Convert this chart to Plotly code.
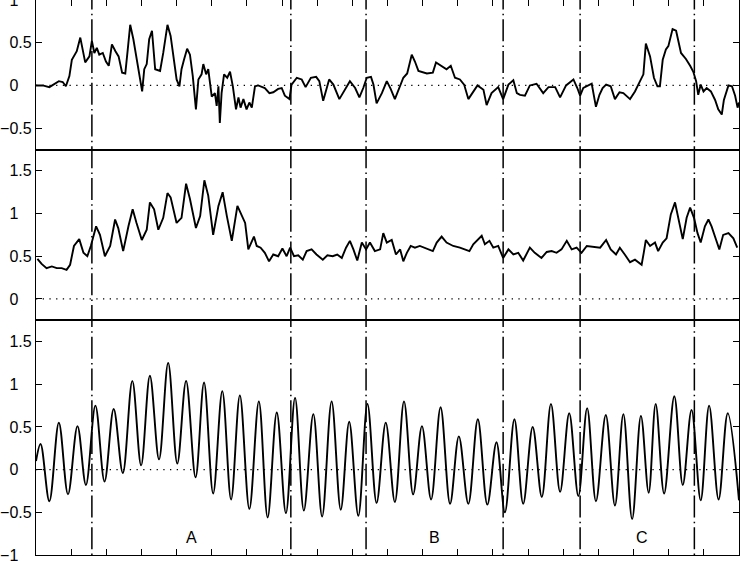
import plotly.graph_objects as go

# ---------------- data ----------------
# time axis in seconds, 0..20 (unlabelled ticks every second)
x_range = [0, 20]
x_ticks = [0, 1, 2, 3, 4, 5, 6, 7, 8, 9, 10, 11, 12, 13, 14, 15, 16, 17, 18, 19, 20]

# top panel
t_top = [0.0, 0.19, 0.38, 0.52, 0.65, 0.76, 0.85, 0.95, 1.02, 1.16, 1.26, 1.40, 1.52, 1.59, 1.66,
         1.73, 1.80, 1.90, 1.99, 2.07, 2.16, 2.26, 2.35, 2.45, 2.54, 2.61, 2.68, 2.77, 2.86, 2.94,
         3.02, 3.08, 3.15, 3.22, 3.30,
         3.39, 3.53, 3.62, 3.74, 3.83, 3.93, 4.00, 4.08, 4.14, 4.21, 4.30, 4.38, 4.46, 4.55, 4.62,
         4.71, 4.76, 4.84, 4.90, 5.00, 5.09, 5.14, 5.19, 5.23, 5.28, 5.35, 5.44, 5.52, 5.60, 5.69,
         5.76, 5.82, 5.90, 5.99, 6.07, 6.14, 6.23, 6.32, 6.51, 6.64,
         6.75, 6.89, 6.99, 7.08, 7.21, 7.27, 7.42, 7.56, 7.67, 7.82, 7.97, 8.06, 8.17, 8.34, 8.46,
         8.63, 8.79, 8.93, 9.08, 9.20, 9.31, 9.41, 9.53, 9.60, 9.69, 9.84, 9.98, 10.09, 10.21, 10.34,
         10.45, 10.56, 10.69, 10.78, 10.88, 11.12, 11.29, 11.38, 11.54, 11.68, 11.80, 11.92, 12.06,
         12.18, 12.30, 12.42, 12.56, 12.73, 12.82, 12.96,
         13.15, 13.29, 13.44, 13.58, 13.68, 13.77, 13.91, 14.05, 14.24, 14.43, 14.58, 14.77, 14.91,
         15.08, 15.29, 15.40,
         15.48, 15.57, 15.67, 15.81, 15.93, 16.03, 16.12, 16.22, 16.35, 16.47, 16.60, 16.71, 16.90,
         17.04, 17.16, 17.28, 17.35, 17.47, 17.58, 17.68, 17.75, 17.83, 17.92, 17.99, 18.11, 18.21,
         18.35, 18.49, 18.61, 18.70, 18.78, 18.84, 18.91, 18.99, 19.08, 19.20, 19.32, 19.41, 19.51,
         19.57, 19.70, 19.80, 19.89, 19.96, 20.0]
v_top = [0.0, 0.0, -0.02, 0.02, 0.05, 0.04, -0.01, 0.11, 0.30, 0.40, 0.56, 0.27, 0.34, 0.52, 0.38,
         0.44, 0.36, 0.38, 0.28, 0.23, 0.48, 0.40, 0.34, 0.15, 0.14, 0.42, 0.71, 0.54, 0.30, 0.11,
         -0.07, 0.19, 0.25, 0.54, 0.64,
         0.19, 0.17, 0.38, 0.71, 0.58, 0.30, 0.07, -0.01, 0.19, 0.30, 0.43, 0.36, 0.11, -0.28, 0.07,
         0.13, 0.25, 0.13, 0.19, -0.13, -0.09, -0.24, -0.01, -0.44, -0.09, 0.13, 0.09, 0.16, -0.01, -0.28,
         -0.14, -0.26, -0.16, -0.28, -0.20, -0.26, -0.01, 0.0, -0.03, -0.09,
         -0.08, -0.04, -0.03, -0.12, -0.16, 0.01, 0.09, 0.07, -0.02, 0.09, 0.10, 0.05, -0.18, 0.07, 0.01,
         -0.16, -0.05, 0.05, -0.03, -0.14, -0.03, 0.09, 0.10, 0.01, -0.21, -0.09, 0.05, -0.04, -0.16, -0.03,
         0.09, 0.14, 0.36, 0.28, 0.17, 0.14, 0.15, 0.27, 0.23, 0.19, 0.23, 0.09, 0.07,
         0.01, -0.16, -0.09, 0.0, -0.05, -0.23, -0.09,
         -0.02, -0.16, 0.01, 0.06, -0.09, -0.11, -0.12, 0.0, 0.02, -0.09, -0.02, -0.02, -0.14,
         0.0, 0.07, -0.03,
         -0.12, -0.03, -0.01, 0.02, -0.25, -0.11, -0.03, 0.01, -0.01, -0.16, -0.08, -0.09, -0.16,
         -0.07, 0.03, 0.13, 0.49, 0.34, 0.09, -0.01, -0.01, 0.30, 0.42, 0.46, 0.66, 0.64,
         0.38, 0.31, 0.23, 0.16, 0.05, -0.11, 0.01, -0.07, -0.03, -0.07, -0.17, -0.28, -0.34,
         -0.17, 0.0, -0.01, -0.12, -0.26, -0.2]

# middle panel
t_mid = [0.04, 0.16, 0.30, 0.45, 0.59, 0.73, 0.87, 0.97, 1.08, 1.23, 1.35, 1.46, 1.56, 1.71, 1.82,
         1.96, 2.11, 2.25, 2.34, 2.48, 2.63, 2.75, 2.86, 3.01, 3.15, 3.24, 3.36, 3.48, 3.62, 3.74,
         3.83, 4.00, 4.14, 4.27, 4.38, 4.55, 4.67, 4.79, 4.90, 5.04, 5.19, 5.31, 5.43, 5.57, 5.73,
         5.85, 5.95,
         6.04, 6.20, 6.28, 6.39, 6.51, 6.63, 6.75, 6.89, 7.01, 7.13, 7.23, 7.34, 7.46, 7.59, 7.70,
         7.84, 7.98, 8.16, 8.29, 8.44, 8.57, 8.70, 8.82, 8.93, 9.03, 9.14, 9.27, 9.39, 9.50, 9.64,
         9.79, 9.88, 9.98, 10.12, 10.24, 10.36, 10.45, 10.55, 10.66, 10.78, 10.92, 11.12, 11.29, 11.40,
         11.54, 11.68, 11.87, 12.06, 12.20, 12.33, 12.44, 12.56, 12.68, 12.77, 12.90, 13.01, 13.15,
         13.29, 13.44, 13.58, 13.72, 13.86, 14.05, 14.19, 14.38, 14.53, 14.67, 14.81, 14.95, 15.10,
         15.24, 15.38, 15.52, 15.67, 15.86, 16.05, 16.22, 16.35, 16.50, 16.61, 16.75, 16.90, 17.04,
         17.23, 17.29, 17.35, 17.47, 17.61, 17.70, 17.83, 17.94, 18.06, 18.18, 18.27, 18.40, 18.51,
         18.61, 18.72, 18.82, 18.91, 19.03, 19.13, 19.22, 19.35, 19.44, 19.55, 19.70, 19.84, 19.95]
v_mid = [0.47, 0.41, 0.36, 0.38, 0.36, 0.36, 0.34, 0.40, 0.62, 0.70, 0.54, 0.50, 0.62, 0.85, 0.75,
         0.50, 0.62, 0.93, 0.83, 0.56, 0.85, 1.05, 0.89, 0.69, 0.81, 1.13, 1.05, 0.81, 0.95, 1.24,
         1.19, 0.89, 0.95, 1.35, 1.17, 0.83, 0.97, 1.39, 1.21, 0.75, 1.09, 1.25, 0.97, 0.68, 1.09,
         0.99, 0.89,
         0.58, 0.73, 0.62, 0.60, 0.54, 0.44, 0.52, 0.50, 0.59, 0.50, 0.60, 0.50, 0.51, 0.46, 0.56,
         0.58, 0.52, 0.46, 0.51, 0.50, 0.52, 0.48, 0.60, 0.68, 0.58, 0.45, 0.66, 0.58, 0.66, 0.56,
         0.58, 0.77, 0.66, 0.69, 0.52, 0.58, 0.44, 0.54, 0.62, 0.60, 0.62, 0.59, 0.56, 0.66,
         0.73, 0.66, 0.62, 0.60, 0.58, 0.56, 0.64, 0.69, 0.74, 0.64, 0.68, 0.60, 0.62,
         0.48, 0.58, 0.52, 0.54, 0.45, 0.60, 0.54, 0.48, 0.55, 0.56, 0.54, 0.58, 0.68,
         0.58, 0.60, 0.54, 0.62, 0.61, 0.60, 0.69, 0.58, 0.52, 0.60, 0.52, 0.43, 0.46,
         0.40, 0.54, 0.69, 0.62, 0.66, 0.56, 0.66, 0.71, 0.99, 1.13, 0.97, 0.70, 0.95,
         1.07, 0.95, 0.77, 0.66, 0.85, 0.93, 0.85, 0.69, 0.58, 0.75, 0.77, 0.71, 0.60]

# bottom panel: successive peaks and troughs of the oscillation
t_bot = [0.00, 0.13, 0.38, 0.65, 0.91, 1.18, 1.42, 1.69, 1.95, 2.21, 2.47, 2.74, 2.99, 3.24, 3.50,
         3.76, 4.02, 4.27, 4.54, 4.78, 5.04, 5.30, 5.55, 5.80, 6.07, 6.34, 6.59, 6.85, 7.11, 7.37,
         7.62, 7.89, 8.14, 8.41, 8.67, 8.91, 9.17, 9.43, 9.69, 9.95, 10.21, 10.47, 10.73, 10.98, 11.24,
         11.51, 11.78, 12.03, 12.30, 12.57, 12.84, 13.10, 13.34, 13.61, 13.86, 14.13, 14.39, 14.65,
         14.91, 15.17, 15.43, 15.68, 15.93, 16.21, 16.47, 16.71, 16.96, 17.21, 17.43, 17.63, 17.87,
         18.16, 18.40, 18.65, 18.91, 19.15, 19.42, 19.68, 20.0]
v_bot = [0.10, 0.30, -0.37, 0.55, -0.29, 0.51, -0.18, 0.75, -0.14, 0.71, -0.04, 1.04, 0.05, 1.10, 0.12,
         1.25, 0.07, 1.04, -0.09, 1.02, -0.28, 0.92, -0.35, 0.87, -0.46, 0.80, -0.56, 0.67, -0.51, 0.84,
         -0.48, 0.65, -0.55, 0.80, -0.47, 0.56, -0.54, 0.77, -0.39, 0.55, -0.38, 0.80, -0.29, 0.51, -0.35,
         0.73, -0.40, 0.39, -0.40, 0.59, -0.41, 0.32, -0.50, 0.59, -0.40, 0.50, -0.32, 0.77,
         -0.26, 0.66, -0.31, 0.72, -0.37, 0.64, -0.42, 0.65, -0.58, 0.63, -0.27, 0.77, -0.28,
         0.86, -0.18, 0.70, -0.36, 0.75, -0.35, 0.66, -0.36]

# event markers and segment labels
marker_times = [1.59, 7.25, 9.39, 13.29, 15.48, 18.73]
segment_labels = ["A", "B", "C"]
segment_label_times = [4.43, 11.33, 17.24]
segment_label_level = -0.8

# y axes: ranges, tick positions and tick labels (integers padded with no-break spaces
# so that they sit further left, as in the original)
PAD = "\u00a0\u00a0\u00a0"
top_range = [-0.75, 1.0]
top_ticks = [-0.5, 0, 0.5, 1]
top_ticktext = ["\u22120.5", "0" + PAD, "0.5", "1" + PAD]
mid_range = [-0.25, 1.75]
mid_ticks = [0, 0.5, 1, 1.5]
mid_ticktext = ["0" + PAD, "0.5", "1" + PAD, "1.5"]
bot_range = [-1, 1.75]
bot_ticks = [-1, -0.5, 0, 0.5, 1, 1.5]
bot_ticktext = ["\u22121" + PAD, "\u22120.5", "0" + PAD, "0.5", "1" + PAD, "1.5"]

# ---------------- figure ----------------
FONT = "Liberation Sans, Arial, Helvetica, sans-serif"
LW = 1.9

fig = go.Figure()
fig.add_trace(go.Scatter(x=t_top, y=v_top, mode="lines", xaxis="x", yaxis="y",
                         line=dict(color="black", width=LW), showlegend=False))
fig.add_trace(go.Scatter(x=t_mid, y=v_mid, mode="lines", xaxis="x2", yaxis="y2",
                         line=dict(color="black", width=LW), showlegend=False))
fig.add_trace(go.Scatter(x=t_bot, y=v_bot, mode="lines", xaxis="x3", yaxis="y3",
                         line=dict(color="black", width=LW, shape="spline", smoothing=1.0),
                         showlegend=False))

dom_top = [0.7306, 1.0]
dom_mid = [0.423, 0.7306]
dom_bot = [0.0, 0.423]

xcommon = dict(range=x_range, showline=True, linecolor="black", linewidth=1.2,
               showgrid=False, zeroline=False, showticklabels=False, automargin=False,
               tickvals=x_ticks, ticklen=6, tickwidth=1.2, tickcolor="black")
ycommon = dict(showline=True, linecolor="black", linewidth=1.2, mirror="ticks", automargin=False,
               showgrid=False, zeroline=False, ticks="inside", ticklen=6, tickwidth=1.2,
               tickcolor="black", ticklabeloverflow="allow",
               tickfont=dict(family=FONT, size=16, color="black"))

fig.update_layout(
    width=740, height=561,
    margin=dict(l=36, r=1, t=0, b=6, autoexpand=False),
    paper_bgcolor="white", plot_bgcolor="white",
    font=dict(family=FONT, size=16, color="black"),
    xaxis=dict(xcommon, anchor="y", side="top", ticks="inside", mirror=True),
    yaxis=dict(ycommon, domain=dom_top, range=top_range, tickvals=top_ticks,
               ticktext=top_ticktext, anchor="x"),
    xaxis2=dict(xcommon, anchor="y2", ticks="", mirror=True, matches="x"),
    yaxis2=dict(ycommon, domain=dom_mid, range=mid_range, tickvals=mid_ticks,
                ticktext=mid_ticktext, anchor="x2"),
    xaxis3=dict(xcommon, anchor="y3", ticks="inside", mirror=True, matches="x"),
    yaxis3=dict(ycommon, domain=dom_bot, range=bot_range, tickvals=bot_ticks,
                ticktext=bot_ticktext, anchor="x3"),
)

shapes = []
# dotted zero lines
for xr, yr in (("x", "y"), ("x2", "y2"), ("x3", "y3")):
    shapes.append(dict(type="line", xref=xr, yref=yr, x0=x_range[0], x1=x_range[1], y0=0, y1=0,
                       line=dict(color="black", width=1.3, dash="1.3px,5.4px"), layer="above"))
# dash-dot event markers spanning all panels
for tm in marker_times:
    shapes.append(dict(type="line", xref="x", yref="paper", x0=tm, x1=tm, y0=0, y1=1,
                       line=dict(color="black", width=1.5, dash="1.5px,4.25px,22px,4px"),
                       layer="above"))
fig.update_layout(shapes=shapes)

for lab, tm in zip(segment_labels, segment_label_times):
    fig.add_annotation(x=tm, y=segment_label_level, xref="x3", yref="y3", text=lab,
                       showarrow=False, font=dict(family=FONT, size=16, color="black"))

fig.write_html("out.html", config={"displayModeBar": False},
               post_script="document.body.style.margin='0';document.body.style.overflow='hidden';")
